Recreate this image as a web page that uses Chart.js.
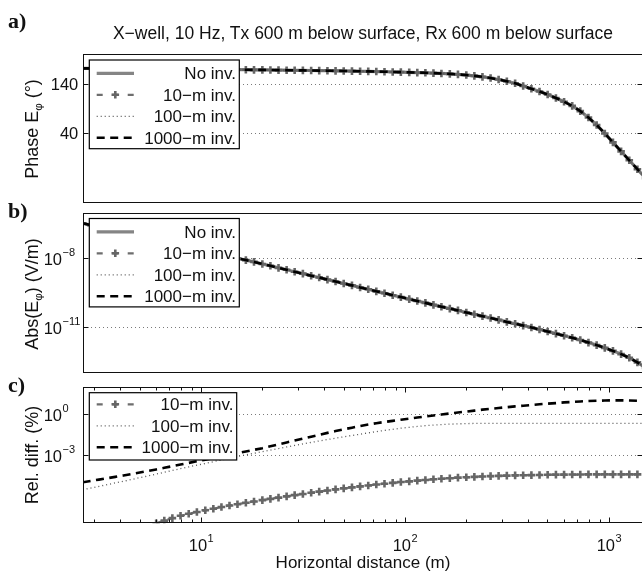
<!DOCTYPE html>
<html>
<head>
<meta charset="utf-8">
<title>X-well, 10 Hz</title>
<script src="https://cdn.jsdelivr.net/npm/chart.js@4.4.1/dist/chart.umd.min.js"></script>
<style>
  html, body { margin: 0; padding: 0; background: #fff; overflow: hidden; }
  #figure { position: relative; width: 642px; height: 575px; overflow: hidden; background: #fff; color: #111;
    font-family: "Liberation Sans", Arial, sans-serif; }
  #figure canvas { position: absolute; left: 0; }
  .tag { position: absolute; left: 8px; font: bold 22px/22px "Liberation Serif", "Times New Roman", serif; }
  .txt { position: absolute; white-space: nowrap; font-size: 17px; line-height: 17px; }
  .title { left: 363px; top: 24.5px; font-size: 17.5px; line-height: 17.5px; transform: translateX(-50%); }
  .xlab { left: 363px; top: 553.6px; transform: translateX(-50%); }
  .ylab { left: 32px; font-size: 18px; line-height: 18px; transform: translate(-50%, -50%) rotate(-90deg); }
  .ylab sub { font-size: 11.5px; line-height: 0; vertical-align: -4px; }
</style>
</head>
<body>
<div id="figure">
  <canvas id="phaseChart" width="660" height="210" style="top:0"></canvas>
  <canvas id="absChart" width="660" height="175" style="top:205px"></canvas>
  <canvas id="relChart" width="660" height="195" style="top:380px"></canvas>
  <div class="tag" style="top:10px">a)</div>
  <div class="tag" style="top:200px">b)</div>
  <div class="tag" style="top:374px">c)</div>
  <div class="txt title">X−well, 10 Hz, Tx 600 m below surface, Rx 600 m below surface</div>
  <div class="txt ylab" style="top:128.5px">Phase E<sub>φ</sub> (°)</div>
  <div class="txt ylab" style="top:294px">Abs(E<sub>φ</sub>) (V/m)</div>
  <div class="txt ylab" style="top:455px">Rel. diff. (%)</div>
  <div class="txt xlab">Horizontal distance (m)</div>
</div>
<script>
// horizontal distance (m), shared by all three panels
const distance = [
  2.63, 2.88, 3.16, 3.47, 3.8, 4.17, 4.57, 5.01, 5.5, 6.03,
  6.61, 7.24, 7.94, 8.71, 9.55, 10.5, 11.5, 12.6, 13.8, 15.1,
  16.6, 18.2, 20, 21.9, 24, 26.3, 28.8, 31.6, 34.7, 38,
  41.7, 45.7, 50.1, 55, 60.3, 66.1, 72.4, 79.4, 87.1, 95.5,
  105, 115, 126, 138, 151, 166, 182, 200, 219, 240,
  263, 288, 316, 347, 380, 417, 457, 501, 550, 603,
  661, 724, 794, 871, 955, 1047, 1148, 1259, 1380, 1514,
];

// a) phase of E_phi (deg) - all four models lie on top of each other
const phase = [
  171, 171, 171, 170.8, 170.7, 170.5, 170.4, 170.2, 170.1, 170,
  169.8, 169.7, 169.5, 169.4, 169.2, 169, 168.9, 168.7, 168.6, 168.4,
  168.3, 168.1, 168, 167.8, 167.6, 167.4, 167.2, 167, 166.8, 166.6,
  166.4, 166.1, 165.9, 165.6, 165.3, 165, 164.7, 164.3, 163.9, 163.5,
  163.1, 162.6, 162.1, 161.5, 160.8, 160, 158.9, 157.6, 156, 154,
  151.6, 148.6, 145, 141, 135.5, 130, 124.5, 118.5, 111.5, 104,
  95.5, 85, 72, 57, 40, 22, 4, -14, -32, -50,
];

// b) |E_phi| (V/m)
const absE = [
  3.39e-7, 2.82e-7, 2.34e-7, 1.95e-7, 1.62e-7, 1.35e-7, 1.12e-7, 9.33e-8, 7.76e-8, 6.46e-8,
  5.37e-8, 4.47e-8, 3.72e-8, 3.09e-8, 2.57e-8, 2.14e-8, 1.78e-8, 1.48e-8, 1.23e-8, 1.02e-8,
  8.51e-9, 7.08e-9, 5.75e-9, 4.79e-9, 3.89e-9, 3.24e-9, 2.63e-9, 2.19e-9, 1.78e-9, 1.48e-9,
  1.2e-9, 1e-9, 8.13e-10, 6.76e-10, 5.5e-10, 4.57e-10, 3.72e-10, 3.09e-10, 2.51e-10, 2.09e-10,
  1.7e-10, 1.41e-10, 1.17e-10, 9.55e-11, 7.94e-11, 6.61e-11, 5.5e-11, 4.47e-11, 3.72e-11, 3.09e-11,
  2.57e-11, 2.14e-11, 1.74e-11, 1.45e-11, 1.2e-11, 1e-11, 8.13e-12, 6.61e-12, 5.37e-12, 4.37e-12,
  3.55e-12, 2.82e-12, 2.19e-12, 1.7e-12, 1.29e-12, 9.55e-13, 6.92e-13, 4.79e-13, 3.02e-13, 1.74e-13,
];

// c) relative difference (%) against the model without inversion layer
const relDiff10 = [
  null, null, null, null, null, null, null, null, null, 1e-8,
  1.58e-8, 2.4e-8, 3.55e-8, 5.01e-8, 6.76e-8, 8.91e-8, 1.17e-7, 1.55e-7, 2e-7, 2.51e-7,
  3.16e-7, 3.98e-7, 5.01e-7, 6.17e-7, 7.59e-7, 9.33e-7, 1.15e-6, 1.41e-6, 1.74e-6, 2.09e-6,
  2.51e-6, 3.02e-6, 3.63e-6, 4.27e-6, 5.01e-6, 5.89e-6, 6.92e-6, 7.94e-6, 9.12e-6, 1.05e-5,
  1.17e-5, 1.32e-5, 1.48e-5, 1.66e-5, 1.82e-5, 2e-5, 2.19e-5, 2.34e-5, 2.51e-5, 2.69e-5,
  2.82e-5, 2.95e-5, 3.09e-5, 3.24e-5, 3.31e-5, 3.39e-5, 3.47e-5, 3.55e-5, 3.63e-5, 3.63e-5,
  3.72e-5, 3.72e-5, 3.8e-5, 3.8e-5, 3.8e-5, 3.8e-5, 3.8e-5, 3.8e-5, 3.8e-5, 3.8e-5,
];
const relDiff100 = [
  2.82e-6, 3.8e-6, 5.01e-6, 6.76e-6, 9.12e-6, 1.2e-5, 1.62e-5, 2.19e-5, 2.95e-5, 3.98e-5,
  5.5e-5, 7.41e-5, 1e-4, 1.35e-4, 1.82e-4, 2.4e-4, 3.24e-4, 4.37e-4, 5.75e-4, 7.76e-4,
  1.02e-3, 1.32e-3, 1.74e-3, 2.29e-3, 2.95e-3, 3.89e-3, 5.01e-3, 6.46e-3, 8.32e-3, 1.07e-2,
  1.35e-2, 1.7e-2, 2.14e-2, 2.69e-2, 3.31e-2, 4.17e-2, 5.13e-2, 6.31e-2, 7.59e-2, 9.12e-2,
  0.107, 0.123, 0.141, 0.155, 0.17, 0.182, 0.191, 0.2, 0.204, 0.209,
  0.209, 0.209, 0.209, 0.209, 0.209, 0.209, 0.209, 0.209, 0.209, 0.209,
  0.209, 0.209, 0.209, 0.209, 0.209, 0.209, 0.209, 0.209, 0.209, 0.209,
];
const relDiff1000 = [
  1e-5, 1.26e-5, 1.58e-5, 2e-5, 2.51e-5, 3.16e-5, 4.07e-5, 5.25e-5, 6.76e-5, 8.71e-5,
  1.15e-4, 1.51e-4, 2e-4, 2.63e-4, 3.47e-4, 4.57e-4, 6.03e-4, 7.94e-4, 1.05e-3, 1.38e-3,
  1.82e-3, 2.4e-3, 3.16e-3, 4.37e-3, 6.03e-3, 8.32e-3, 1.15e-2, 1.58e-2, 2.19e-2, 3.02e-2,
  4.17e-2, 5.62e-2, 7.59e-2, 0.1, 0.132, 0.17, 0.214, 0.263, 0.316, 0.38,
  0.457, 0.55, 0.661, 0.776, 0.912, 1.1, 1.29, 1.51, 1.78, 2.09,
  2.4, 2.75, 3.16, 3.63, 4.07, 4.57, 5.13, 5.75, 6.31, 7.08,
  7.59, 8.32, 8.91, 9.33, 9.77, 10, 10, 9.77, 9.33, 8.91,
];

// axis limits and tick labels
const xMin = 2.64;
const xMax = 1470;
const distanceExponents = [1, 2, 3];
const phaseTicks = [40, 140];
const absExponents = [-8, -11];
const relExponents = [0, -3];

const FONT = "'Liberation Sans', Arial, sans-serif";

const lineStyles = {
  none: { label: "No inv.", borderColor: "#858585", borderWidth: 3.2, borderDash: [] },
  inv10: {
    label: "10\u2212m inv.", borderColor: "#6e6e6e", borderWidth: 2.2, borderDash: [6, 6],
    pointStyle: "cross", pointRadius: 3.8, pointBorderWidth: 2.6, pointBorderColor: "#666",
    legendDash: [6, 9.5],
  },
  inv100: { label: "100\u2212m inv.", borderColor: "#555", borderWidth: 1.3, borderDash: [1, 3] },
  inv1000: { label: "1000\u2212m inv.", borderColor: "#000", borderWidth: 2.6, borderDash: [8, 5.5] },
};

function series(key, values, order) {
  const s = lineStyles[key];
  return {
    label: s.label,
    data: distance.map((d, i) => ({ x: d, y: values[i] })),
    borderColor: s.borderColor,
    borderWidth: s.borderWidth,
    borderDash: s.borderDash,
    pointStyle: s.pointStyle || "circle",
    pointRadius: s.pointRadius || 0,
    pointBorderWidth: s.pointBorderWidth || 0,
    pointBorderColor: s.pointBorderColor || s.borderColor,
    pointBackgroundColor: s.pointBorderColor || s.borderColor,
    fill: false,
    tension: 0,
    order: order,
  };
}

// "10" with a raised exponent, like the MATLAB tick labels
function drawPower(ctx, exp, x, baseline, anchor) {
  const sup = String(exp).replace("-", "\u2212");
  ctx.font = "16.5px " + FONT;
  const wBase = ctx.measureText("10").width;
  ctx.font = "11px " + FONT;
  const wSup = ctx.measureText(sup).width;
  const start = anchor === "center" ? x - (wBase + wSup) / 2 : x - wBase;
  ctx.textAlign = "left";
  ctx.textBaseline = "alphabetic";
  ctx.font = "16.5px " + FONT;
  ctx.fillText("10", start, baseline);
  ctx.font = "11px " + FONT;
  ctx.fillText(sup, start + wBase + 0.5, baseline - 8.5);
}

function drawLegend(ctx, a, lg) {
  const left = a.left + 6.3;
  const top = a.top + 6;
  ctx.setLineDash([]);
  ctx.fillStyle = "#fff";
  ctx.fillRect(left, top, lg.width, lg.height);
  ctx.strokeStyle = "#000";
  ctx.lineWidth = 1.2;
  ctx.strokeRect(left, top, lg.width, lg.height);

  lg.keys.forEach((key, i) => {
    const s = lineStyles[key];
    const y = top + lg.firstRow + i * 21.5;
    ctx.strokeStyle = s.borderColor;
    ctx.lineWidth = s.borderWidth;
    ctx.setLineDash(s.legendDash || s.borderDash);
    ctx.beginPath();
    ctx.moveTo(left + 7.4, y);
    ctx.lineTo(left + 44.7, y);
    ctx.stroke();
    if (s.pointStyle) {
      const cx = left + 26, r = s.pointRadius;
      ctx.setLineDash([]);
      ctx.strokeStyle = s.pointBorderColor;
      ctx.lineWidth = s.pointBorderWidth;
      ctx.beginPath();
      ctx.moveTo(cx - r, y);
      ctx.lineTo(cx + r, y);
      ctx.moveTo(cx, y - r);
      ctx.lineTo(cx, y + r);
      ctx.stroke();
    }
    ctx.fillStyle = "#111";
    ctx.font = "17px " + FONT;
    ctx.textAlign = "right";
    ctx.textBaseline = "alphabetic";
    ctx.fillText(s.label, left + lg.width - 3.3, y + 6);
  });
}

// grid, frame, inward ticks, tick labels and legend of one panel
function framePlugin(cfg) {
  return {
    id: "frame",
    beforeDatasetsDraw(chart) {
      const { ctx, chartArea: a } = chart;
      const y = chart.scales.y;
      ctx.save();
      ctx.strokeStyle = "#7a7a7a";
      ctx.lineWidth = 1;
      ctx.setLineDash([1, 3]);
      cfg.yTicks.forEach((v) => {
        const py = Math.round(y.getPixelForValue(v)) + 0.5;
        ctx.beginPath();
        ctx.moveTo(a.left, py);
        ctx.lineTo(a.right, py);
        ctx.stroke();
      });
      ctx.restore();
    },
    afterDatasetsDraw(chart) {
      const { ctx, chartArea: a } = chart;
      const x = chart.scales.x;
      const y = chart.scales.y;
      const L = Math.round(a.left) + 0.5;
      const R = Math.round(a.right) - 0.5;
      const T = Math.round(a.top) + 0.5;
      const B = Math.round(a.bottom) - 0.5;

      ctx.save();
      ctx.setLineDash([]);
      ctx.strokeStyle = "#111";
      ctx.lineWidth = 1;
      ctx.strokeRect(L, T, R - L, B - T);

      ctx.beginPath();
      cfg.yTicks.forEach((v) => {
        const py = Math.round(y.getPixelForValue(v)) + 0.5;
        ctx.moveTo(L, py);
        ctx.lineTo(L + 5, py);
        ctx.moveTo(R, py);
        ctx.lineTo(R - 5, py);
      });
      if (cfg.xTicks) {
        const e0 = Math.floor(Math.log10(x.min));
        const e1 = Math.ceil(Math.log10(x.max));
        for (let e = e0; e <= e1; e++) {
          for (let m = 1; m < 10; m++) {
            const v = m * Math.pow(10, e);
            if (v < x.min || v > x.max) continue;
            const px = Math.round(x.getPixelForValue(v)) + 0.5;
            const len = m === 1 ? 5 : 3;
            ctx.moveTo(px, B);
            ctx.lineTo(px, B - len);
            ctx.moveTo(px, T);
            ctx.lineTo(px, T + len);
          }
        }
      }
      ctx.stroke();

      ctx.fillStyle = "#111";
      if (cfg.yExponents) {
        cfg.yExponents.forEach((e, i) => {
          const py = y.getPixelForValue(cfg.yTicks[i]);
          drawPower(ctx, e, a.left - 21, py + 6.5, "right");
        });
      } else {
        ctx.font = "16.5px " + FONT;
        ctx.textAlign = "right";
        ctx.textBaseline = "alphabetic";
        cfg.yTicks.forEach((v) => {
          ctx.fillText(String(v), a.left - 4.7, y.getPixelForValue(v) + 6);
        });
      }
      if (cfg.xExponents) {
        cfg.xExponents.forEach((e) => {
          drawPower(ctx, e, x.getPixelForValue(Math.pow(10, e)), a.bottom + 27.4, "center");
        });
      }

      drawLegend(ctx, a, cfg.legend);
      ctx.restore();
    },
  };
}

function makePanel(id, cfg) {
  return new Chart(document.getElementById(id), {
    type: "line",
    data: { datasets: cfg.datasets },
    options: {
      responsive: false,
      animation: false,
      devicePixelRatio: 1,
      layout: { padding: cfg.padding },
      scales: {
        x: { type: "logarithmic", min: xMin, max: xMax, display: false },
        y: { type: cfg.yType, min: cfg.yMin, max: cfg.yMax, display: false },
      },
      plugins: { legend: { display: false }, tooltip: { enabled: false } },
    },
    plugins: [framePlugin(cfg)],
  });
}

const allKeys = ["none", "inv10", "inv100", "inv1000"];

makePanel("phaseChart", {
  datasets: [
    series("none", phase, 3),
    series("inv10", phase, 2),
    series("inv100", phase, 1),
    series("inv1000", phase, 0),
  ],
  padding: { left: 83, top: 54, right: 17, bottom: 7 },
  yType: "linear", yMin: -100, yMax: 200,
  yTicks: phaseTicks,
  legend: { keys: allKeys, width: 150, height: 88.7, firstRow: 13.3 },
});

makePanel("absChart", {
  datasets: [
    series("none", absE, 3),
    series("inv10", absE, 2),
    series("inv100", absE, 1),
    series("inv1000", absE, 0),
  ],
  padding: { left: 83, top: 7.5, right: 17, bottom: 4 },
  yType: "logarithmic", yMin: 1e-13, yMax: 1e-6,
  yTicks: absExponents.map((e) => Math.pow(10, e)),
  yExponents: absExponents,
  legend: { keys: allKeys, width: 150, height: 88.4, firstRow: 13.3 },
});

makePanel("relChart", {
  datasets: [
    series("inv10", relDiff10, 2),
    series("inv100", relDiff100, 1),
    series("inv1000", relDiff1000, 0),
  ],
  padding: { left: 83, top: 6.7, right: 17, bottom: 51.7 },
  yType: "logarithmic", yMin: 1e-8, yMax: 1e2,
  yTicks: relExponents.map((e) => Math.pow(10, e)),
  yExponents: relExponents,
  xTicks: true,
  xExponents: distanceExponents,
  legend: { keys: ["inv10", "inv100", "inv1000"], width: 147.4, height: 67.3, firstRow: 11.6 },
});
</script>
</body>
</html>
